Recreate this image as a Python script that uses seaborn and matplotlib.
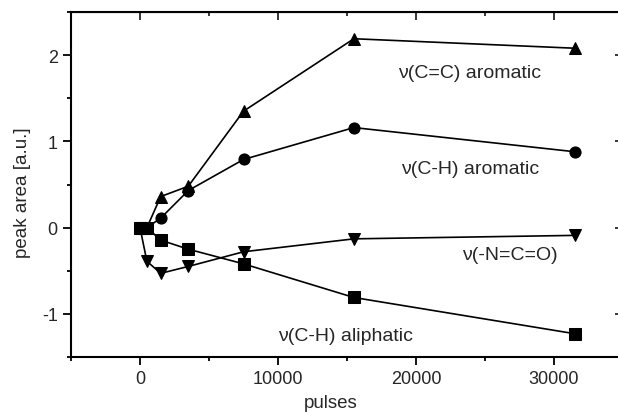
import numpy as np
import pandas as pd
import matplotlib
matplotlib.use("Agg")
import matplotlib.pyplot as plt
import seaborn as sns
from matplotlib.ticker import MultipleLocator

# data
pulses = [0, 500, 1500, 3500, 7500, 15500, 31500]
cc_aromatic = [0.0, 0.0, 0.36, 0.48, 1.35, 2.19, 2.08]
ch_aromatic = [0.0, 0.0, 0.11, 0.43, 0.79, 1.16, 0.88]
nco = [0.0, -0.39, -0.53, -0.45, -0.28, -0.13, -0.09]
ch_aliphatic = [0.0, 0.0, -0.145, -0.25, -0.42, -0.81, -1.23]

series_names = ["cc_arom", "ch_arom", "nco", "ch_aliph"]
series_values = [cc_aromatic, ch_aromatic, nco, ch_aliphatic]
marker_map = {"cc_arom": "^", "ch_arom": "o", "nco": "v", "ch_aliph": "s"}

df = pd.DataFrame({
    "pulses": pulses * len(series_names),
    "area": np.concatenate(series_values),
    "series": np.repeat(series_names, len(pulses)),
})

sns.set_style("ticks")
plt.rcParams["font.family"] = ["Liberation Sans", "DejaVu Sans"]

fig = plt.figure(figsize=(6.18, 4.14), dpi=100)
ax = fig.add_axes([71 / 618, 1 - 358 / 414, 552 / 618, 345 / 414])

sns.lineplot(data=df, x="pulses", y="area", style="series", markers=marker_map,
             dashes=False, color="black", markersize=8, linewidth=1.2,
             markeredgecolor="black", legend=False, ax=ax, sort=False)

ax.set_xlim(-5000, 35000)
ax.set_ylim(-1.5, 2.5)
ax.xaxis.set_major_locator(MultipleLocator(10000))
ax.xaxis.set_minor_locator(MultipleLocator(5000))
ax.yaxis.set_major_locator(MultipleLocator(1))
ax.yaxis.set_minor_locator(MultipleLocator(0.5))
ax.yaxis.set_major_formatter(plt.FuncFormatter(lambda v, p: f"{v:.0f}"))

for s in ax.spines.values():
    s.set_linewidth(1.5)
    s.set_color("black")

ax.tick_params(which="both", direction="out", top=False, right=False,
               labelsize=13, width=1.3, color="black")
ax.tick_params(which="major", length=6)
ax.tick_params(which="minor", length=3)

# inward mirrored ticks on top and right
sec_x = ax.secondary_xaxis("top")
sec_x.xaxis.set_major_locator(MultipleLocator(10000))
sec_x.xaxis.set_minor_locator(MultipleLocator(5000))
sec_x.tick_params(which="both", direction="in", labeltop=False, width=1.3)
sec_x.tick_params(which="major", length=6)
sec_x.tick_params(which="minor", length=3)
sec_y = ax.secondary_yaxis("right")
sec_y.yaxis.set_major_locator(MultipleLocator(1))
sec_y.yaxis.set_minor_locator(MultipleLocator(0.5))
sec_y.tick_params(which="both", direction="in", labelright=False, width=1.3)
sec_y.tick_params(which="major", length=6)
sec_y.tick_params(which="minor", length=3)

ax.set_xlabel("pulses", fontsize=13.5, labelpad=5, x=(331 - 71) / 552)
ax.set_ylabel("peak area [a.u.]", fontsize=13.5, labelpad=8, y=0.478)

ax.text(23900, 1.80, "ν(C=C) aromatic", ha="center", va="center", fontsize=14)
ax.text(23900, 0.68, "ν(C-H) aromatic", ha="center", va="center", fontsize=14)
ax.text(26800, -0.31, "ν(-N=C=O)", ha="center", va="center", fontsize=14)
ax.text(14900, -1.25, "ν(C-H) aliphatic", ha="center", va="center", fontsize=14)

fig.savefig("out.png", dpi=100)
